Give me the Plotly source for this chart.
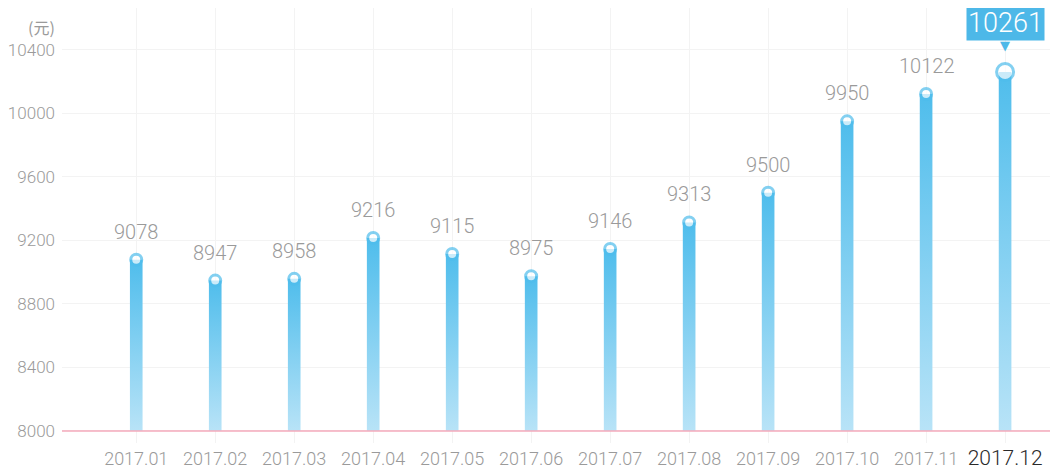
import plotly.graph_objects as go

months = ["2017.01", "2017.02", "2017.03", "2017.04", "2017.05", "2017.06",
          "2017.07", "2017.08", "2017.09", "2017.10", "2017.11", "2017.12"]
values = [9078, 8947, 8958, 9216, 9115, 8975, 9146, 9313, 9500, 9950, 10122, 10261]
y_ticks = [8000, 8400, 8800, 9200, 9600, 10000, 10400]
y_tick_labels = ["8000", "8400", "8800", "9200", "9600", "10000", "10400"]
base_value = 8000
unit_label = "(元)"

FONT = "Roboto"
GRAY = "#9a9a9a"
BLUE = "#4fbdec"
LIGHT = "#b8e3f7"
half_w = 0.08

fig = go.Figure()

# gradient bars as filled polygons
for i, v in enumerate(values):
    fig.add_trace(go.Scatter(
        x=[i - half_w, i + half_w, i + half_w, i - half_w, i - half_w],
        y=[base_value, base_value, v, v, base_value],
        mode="lines", fill="toself", line=dict(width=0),
        fillgradient=dict(type="vertical", colorscale=[[0, LIGHT], [1, BLUE]]),
        hoverinfo="skip", showlegend=False,
    ))

n = len(values)
sizes = [11] * (n - 1) + [17]
fig.add_trace(go.Scatter(
    x=list(range(n)), y=values, mode="markers",
    marker=dict(size=sizes, color="white", line=dict(color=BLUE, width=3)),
    showlegend=False, hoverinfo="skip",
))

# pink baseline
fig.add_shape(type="line", xref="paper", x0=0, x1=1, yref="y", y0=base_value, y1=base_value,
              line=dict(color="#f4aabb", width=1.5), layer="above")

# value labels
for i, v in enumerate(values[:-1]):
    fig.add_annotation(x=i, y=v, text=str(v), showarrow=False, yshift=28,
                       font=dict(family=FONT, size=20, color=GRAY, weight=300))

# highlighted last value
fig.add_annotation(x=n - 1, y=values[-1], text=str(values[-1]), showarrow=False, yshift=49,
                   font=dict(family=FONT, size=27, color="white", weight=300),
                   bgcolor="#4db8e8", borderpad=1)
fig.add_annotation(x=n - 1, y=values[-1], text="▼", showarrow=False, yshift=26,
                   font=dict(family="DejaVu Sans", size=13, color="#4db8e8"))

fig.add_annotation(xref="paper", yref="paper", x=-0.005, y=0.956, xanchor="right", yanchor="middle",
                   text=unit_label, showarrow=False,
                   font=dict(family="Noto Sans CJK SC", size=16, color=GRAY))

ticktext = months[:-1] + ["<span style='color:#2a2a2a;font-size:21px'>" + months[-1] + "</span>"]

fig.update_layout(
    width=1050, height=468,
    margin=dict(l=54, r=0, t=0, b=33, autoexpand=False),
    plot_bgcolor="white", paper_bgcolor="white",
    xaxis=dict(range=[-0.94, 11.67], tickvals=list(range(n)), ticktext=ticktext,
               showgrid=True, gridcolor="#f3f3f3", gridwidth=1, zeroline=False,
               showline=False, ticks="", ticklabelstandoff=3, automargin=False,
               tickfont=dict(family=FONT, size=18, color=GRAY, weight=300)),
    yaxis=dict(range=[7924, 10664], tickvals=y_ticks, ticktext=y_tick_labels,
               showgrid=True, gridcolor="#f3f3f3", gridwidth=1, zeroline=False,
               showline=False, ticks="", ticklabelstandoff=6, automargin=False,
               tickfont=dict(family=FONT, size=17, color=GRAY, weight=300)),
    showlegend=False,
)

fig.write_html("out.html")
